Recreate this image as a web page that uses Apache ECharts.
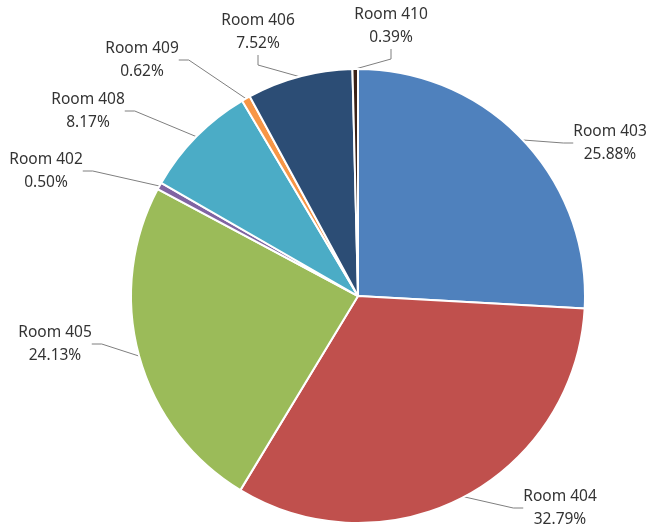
<!DOCTYPE html>
<html><head><meta charset="utf-8">
<script src="https://cdn.jsdelivr.net/npm/echarts@6/dist/echarts.min.js"></script>
<style>html,body{margin:0;padding:0;background:#fff}#c{width:649px;height:526px}</style>
</head><body><div id="c"></div>
<script>
const rooms = ['Room 403','Room 404','Room 405','Room 402','Room 408','Room 409','Room 406','Room 410'];
const shares = [25.88, 32.79, 24.13, 0.50, 8.17, 0.62, 7.52, 0.39];
const colors = ['#4F81BD','#C0504D','#9BBB59','#8064A2','#4BACC6','#F79646','#2C4D75','#3a2218'];
// label anchor positions (layout only)
const labelPos = [[610,143],[560,508],[55,344],[46,171],[88,111],[142,60],[258,32],[391,26]];

const chart = echarts.init(document.getElementById('c'));
chart.setOption({
  animation: false,
  series: [{
    type: 'pie',
    center: [358, 296],
    radius: [0, 227],
    startAngle: 90,
    clockwise: true,
    avoidLabelOverlap: false,
    itemStyle: { borderColor: '#fff', borderWidth: 2 },
    label: {
      show: true,
      position: 'outside',
      fontFamily: 'Noto Sans',
      fontSize: 15.5,
      lineHeight: 23,
      color: '#333',
      align: 'center',
      formatter: p => p.name + '\n' + p.value.toFixed(2) + '%'
    },
    labelLine: { show: true, lineStyle: { color: '#7f7f7f', width: 1 }, length: 10, length2: 10 },
    labelLayout: p => ({ x: labelPos[p.dataIndex][0], y: labelPos[p.dataIndex][1], align: 'center', verticalAlign: 'middle' }),
    data: rooms.map((r, i) => ({ name: r, value: shares[i], itemStyle: { color: colors[i] } }))
  }]
});
</script></body></html>
